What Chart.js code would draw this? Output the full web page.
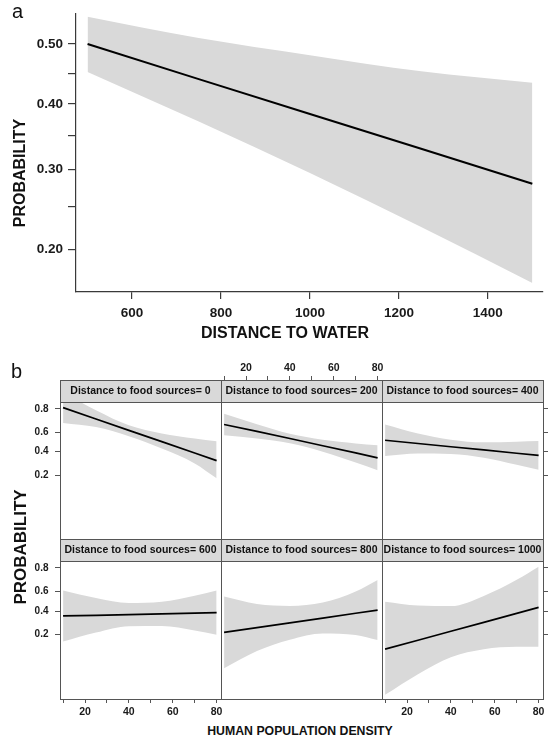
<!DOCTYPE html>
<html>
<head>
<meta charset="utf-8">
<script src="https://cdn.jsdelivr.net/npm/chart.js@4.4.1/dist/chart.umd.min.js"></script>
<style>
  html, body { margin: 0; padding: 0; background: #fff; }
  #fig { position: relative; width: 554px; height: 738px; overflow: hidden; }
  #fig canvas { position: absolute; }
  .lbl { position: absolute; font-family: 'Liberation Sans', Arial, Helvetica, sans-serif; line-height: 1; white-space: nowrap; color: #111; }
  .b { font-weight: bold; }
  .rot { transform: translate(-50%, -50%) rotate(-90deg); }
  .ctr { transform: translate(-50%, -50%); }
</style>
</head>
<body>
<div id="fig">
  <canvas id="topChart" width="554" height="345" style="left:0;top:0"></canvas>
  <div class="lbl" style="left:12px;top:1px;font-size:20px">a</div>
  <div class="lbl rot b" style="left:20px;top:173px;font-size:16px">PROBABILITY</div>
  <div class="lbl ctr b" style="left:285px;top:333px;font-size:16px">DISTANCE TO WATER</div>
  <div class="lbl" style="left:11px;top:361px;font-size:20px">b</div>
  <div class="lbl rot b" style="left:20px;top:547px;font-size:17px">PROBABILITY</div>
  <div class="lbl ctr b" style="left:300px;top:731px;font-size:12.3px">HUMAN POPULATION DENSITY</div>
</div>
<script>
// panel a: distance to water
const distX     = [500, 750, 1000, 1250, 1500];
const distFit   = [0.500, 0.441, 0.384, 0.330, 0.280];
const distUpper = [0.546, 0.510, 0.481, 0.454, 0.435];
const distLower = [0.453, 0.372, 0.295, 0.225, 0.166];
const distXTicks  = [600, 800, 1000, 1200, 1400];
const distYTicks  = [0.20, 0.25, 0.30, 0.35, 0.40, 0.45, 0.50];
const distYLabels = ['0.20', '', '0.30', '', '0.40', '', '0.50'];

// panel b: human population density, one row per food-source distance
const foodDist = [0, 200, 400, 600, 800, 1000];
const densX    = [10, 25, 40, 55, 70, 80];
const densFit = [
  [0.808, 0.723, 0.619, 0.503, 0.386, 0.314],
  [0.675, 0.609, 0.536, 0.460, 0.387, 0.340],
  [0.518, 0.484, 0.450, 0.417, 0.384, 0.363],
  [0.352, 0.358, 0.365, 0.372, 0.379, 0.383],
  [0.215, 0.251, 0.290, 0.332, 0.378, 0.409],
  [0.120, 0.165, 0.223, 0.294, 0.376, 0.436]
];
const densUpper = [
  [0.888, 0.790, 0.667, 0.587, 0.535, 0.507],
  [0.765, 0.678, 0.585, 0.523, 0.485, 0.466],
  [0.675, 0.588, 0.524, 0.496, 0.502, 0.509],
  [0.610, 0.534, 0.482, 0.494, 0.556, 0.609],
  [0.549, 0.471, 0.451, 0.486, 0.599, 0.708],
  [0.496, 0.455, 0.450, 0.555, 0.709, 0.808]
];
const densLower = [
  [0.688, 0.651, 0.559, 0.431, 0.289, 0.179],
  [0.570, 0.536, 0.486, 0.399, 0.297, 0.235],
  [0.357, 0.381, 0.377, 0.341, 0.278, 0.238],
  [0.158, 0.214, 0.262, 0.264, 0.229, 0.199],
  [0.058, 0.112, 0.168, 0.208, 0.198, 0.166],
  [0.020, 0.046, 0.089, 0.120, 0.131, 0.131]
];
const densXTicks  = [10, 20, 30, 40, 50, 60, 70, 80];
const densXLabels = ['', '20', '', '40', '', '60', '', '80'];
const densYTicks  = [0.2, 0.4, 0.6, 0.8];
const densYLabels = ['0.2', '0.4', '0.6', '0.8'];

const FONT  = "'Liberation Sans', Arial, Helvetica, sans-serif";
const BAND  = '#d9d9d9';
const STRIP = '#d9d9d9';
const AXIS  = '#3a3a3a';
const FRAME = '#555';
Chart.defaults.font.family = FONT;
Chart.defaults.color = '#1a1a1a';

// logit y axis, like the effects plots use
const logit = p => Math.log(p / (1 - p));
class LogitScale extends Chart.LinearScale {
  static id = 'logit';
  static defaults = {};
  configure() {
    super.configure();
    this._lo = logit(this.min);
    this._hi = logit(this.max);
  }
  getPixelForValue(v) {
    if (v == null) return NaN;
    return this.getPixelForDecimal((logit(v) - this._lo) / (this._hi - this._lo));
  }
  getValueForPixel(px) {
    const t = this._lo + this.getDecimalForPixel(px) * (this._hi - this._lo);
    return 1 / (1 + Math.exp(-t));
  }
}
Chart.register(LogitScale);

const pts = (xs, ys) => xs.map((x, i) => ({ x, y: ys[i] }));
const setTicks = list => s => { s.ticks = list.map(value => ({ value })); };

function bandSets(xs, fit, up, lo, lw) {
  return [
    { data: pts(xs, fit), borderColor: '#000', borderWidth: lw, pointRadius: 0, fill: false },
    { data: pts(xs, up), borderColor: 'transparent', borderWidth: 0, pointRadius: 0, backgroundColor: BAND, fill: '+1', cubicInterpolationMode: 'monotone' },
    { data: pts(xs, lo), borderColor: 'transparent', borderWidth: 0, pointRadius: 0, fill: false, cubicInterpolationMode: 'monotone' }
  ];
}

new Chart(document.getElementById('topChart'), {
  type: 'line',
  data: { datasets: bandSets(distX, distFit, distUpper, distLower, 2) },
  options: {
    responsive: false, animation: false,
    layout: { padding: { top: 14, right: 11, left: 0, bottom: 0 } },
    plugins: { legend: { display: false }, tooltip: { enabled: false } },
    scales: {
      x: {
        type: 'linear', min: 474, max: 1524,
        afterBuildTicks: setTicks(distXTicks),
        ticks: { font: { size: 13.5, weight: 'bold' }, padding: 6, maxRotation: 0, autoSkip: false, callback: v => String(v) },
        grid: { drawOnChartArea: false, tickLength: 7, color: AXIS, lineWidth: 1.2 },
        border: { color: AXIS, width: 1.2 },
        afterFit: s => { s.height = 53; }
      },
      y: {
        type: 'logit', min: 0.1577, max: 0.5505,
        afterBuildTicks: setTicks(distYTicks),
        ticks: { font: { size: 13.5, weight: 'bold' }, padding: 5, autoSkip: false, callback: (v, k) => distYLabels[k] },
        grid: { drawOnChartArea: false, tickLength: 8, color: AXIS, lineWidth: 1.2 },
        border: { color: AXIS, width: 1.2 },
        afterFit: s => { s.width = 76; }
      }
    }
  }
});

// lattice panels
const colLeft = [60, 221, 382], panelW = 161;
const stripTop = [380, 539], stripH = 22, plotH = [137, 138];
const ML = 45, MR = 12, MT = 24, MB = 26;

const panelFrame = {
  id: 'panelFrame',
  beforeDraw(chart) {
    const t = chart.titleBlock, ctx = chart.ctx;
    ctx.save();
    ctx.fillStyle = STRIP;
    ctx.fillRect(t.left, t.top, t.width, t.height);
    ctx.restore();
  },
  afterDraw(chart) {
    const t = chart.titleBlock, a = chart.chartArea, ctx = chart.ctx;
    const L = Math.round(a.left) + 0.5, R = Math.round(a.right) + 0.5;
    ctx.save();
    ctx.strokeStyle = FRAME;
    ctx.lineWidth = 1;
    ctx.strokeRect(L, Math.round(t.top) + 0.5, R - L, Math.round(a.bottom) - Math.round(t.top));
    ctx.beginPath();
    ctx.moveTo(L, Math.round(a.top) + 0.5);
    ctx.lineTo(R, Math.round(a.top) + 0.5);
    ctx.stroke();
    ctx.restore();
  }
};

const xAxis = (pos, show) => ({
  type: 'linear', position: pos, min: 8.6, max: 82, weight: pos === 'top' ? 3000 : 0,
  afterBuildTicks: setTicks(densXTicks),
  ticks: { display: show, font: { size: 10.5, weight: 'bold' }, padding: pos === 'top' ? 2 : 3, maxRotation: 0, autoSkip: false, callback: (v, k) => densXLabels[k] },
  grid: { display: show, drawOnChartArea: false, tickLength: 4, color: FRAME },
  border: { display: false },
  afterFit: s => { s.height = pos === 'top' ? MT : MB; }
});

const yAxis = (pos, showTicks, showLabels) => ({
  type: 'logit', position: pos, min: 0.0169, max: 0.842,
  afterBuildTicks: setTicks(densYTicks),
  ticks: { display: showLabels, font: { size: 10, weight: 'bold' }, padding: 6.5, autoSkip: false, callback: (v, k) => densYLabels[k] },
  grid: { display: showTicks, drawOnChartArea: false, tickLength: 5, color: FRAME },
  border: { display: false },
  afterFit: s => { s.width = pos === 'left' ? ML : MR; }
});

const fig = document.getElementById('fig');
foodDist.forEach((d, i) => {
  const col = i % 3, row = Math.floor(i / 3);
  const cv = document.createElement('canvas');
  cv.width = ML + panelW + MR;
  cv.height = MT + stripH + plotH[row] + MB;
  cv.style.left = (colLeft[col] - ML) + 'px';
  cv.style.top = (stripTop[row] - MT) + 'px';
  fig.appendChild(cv);

  new Chart(cv, {
    type: 'line',
    data: { datasets: bandSets(densX, densFit[i], densUpper[i], densLower[i], 1.7) },
    plugins: [panelFrame],
    options: {
      responsive: false, animation: false,
      layout: { padding: 0 },
      plugins: {
        legend: { display: false }, tooltip: { enabled: false },
        title: {
          display: true, text: 'Distance to food sources= ' + d,
          fullSize: false, weight: 2000, position: 'top', align: 'center', color: '#111',
          font: { size: 10.5, weight: 'bold', lineHeight: 1.2 },
          padding: { top: 5, bottom: 4.4 }
        }
      },
      scales: {
        x: xAxis('bottom', row === 1 && col !== 1),
        xTop: xAxis('top', row === 0 && col === 1),
        y: yAxis('left', col === 0, col === 0),
        yRight: yAxis('right', col === 2, false)
      }
    }
  });
});
</script>
</body>
</html>
